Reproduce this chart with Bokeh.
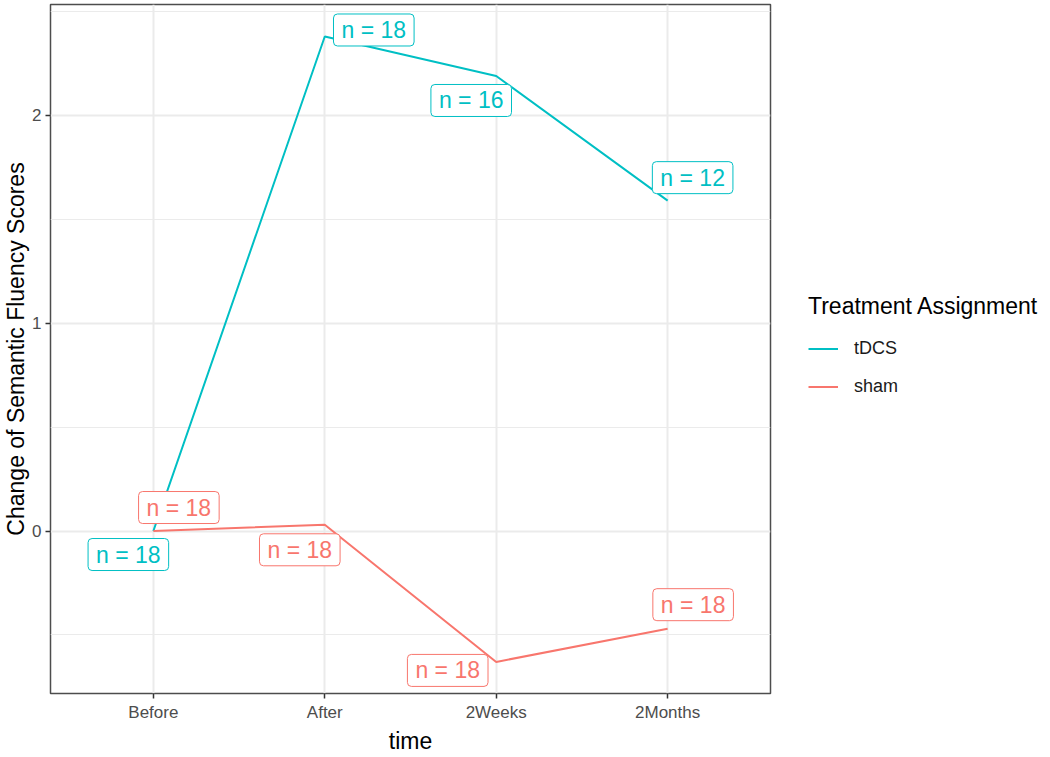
from bokeh.plotting import figure
from bokeh.models import FactorRange, Range1d, FixedTicker, Legend, LegendItem, ColumnDataSource
from bokeh.core.properties import value
from bokeh.embed import file_html
from bokeh.resources import INLINE

# ---------------- data ----------------
time_labels = ["Before", "After", "2Weeks", "2Months"]
tdcs_change = [0.0, 2.38, 2.19, 1.59]
sham_change = [0.0, 0.03, -0.63, -0.47]
tdcs_n = [18, 18, 16, 12]
sham_n = [18, 18, 18, 18]
series_names = ["tDCS", "sham"]
y_ticks = [0, 1, 2]
y_minor_ticks = [-0.5, 0.5, 1.5, 2.5]
legend_title = "Treatment Assignment"
x_title = "time"
y_title = "Change of Semantic Fluency Scores"

# ---------------- label placement (pixel offsets, repel-like) ----------------
tdcs_dx = [-25, 49, -25, 25]
tdcs_dy = [23.5, -6.5, 24.5, -23]
sham_dx = [25.5, -25, -48.5, 25.5]
sham_dy = [-23.5, 25, 8.5, -24]

TDCS = "#00BFC4"
SHAM = "#F8766D"
FONT = "Liberation Sans"

p = figure(
    frame_width=720, frame_height=689,
    x_range=FactorRange(factors=time_labels, range_padding=0.1, range_padding_units="absolute"),
    y_range=Range1d(-0.782, 2.534),
    output_backend="svg", toolbar_location=None,
    min_border_left=50, min_border_top=4, min_border_bottom=64, min_border_right=0,
)
p.background_fill_color = "white"
p.border_fill_color = "white"
p.outline_line_color = "#4d4d4d"
p.outline_line_width = 1.5

# grids
p.xgrid.grid_line_color = "#EBEBEB"
p.xgrid.grid_line_width = 2
p.ygrid.grid_line_color = "#EBEBEB"
p.ygrid.grid_line_width = 2
p.ygrid.minor_grid_line_color = "#EBEBEB"
p.ygrid.minor_grid_line_width = 1
p.yaxis.ticker = FixedTicker(ticks=y_ticks, minor_ticks=y_minor_ticks)

for ax in (p.xaxis[0], p.yaxis[0]):
    ax.axis_line_color = None
    ax.major_tick_line_color = "#333333"
    ax.major_tick_line_width = 1.5
    ax.major_tick_out = 5
    ax.major_tick_in = 0
    ax.minor_tick_line_color = None
    ax.major_label_text_font = FONT
    ax.major_label_text_font_size = "17px"
    ax.major_label_text_color = "#4D4D4D"
    ax.axis_label_text_font = FONT
    ax.axis_label_text_font_size = "23px"
    ax.axis_label_text_font_style = "normal"
    ax.axis_label_text_color = "black"

p.xaxis.axis_label = x_title
p.yaxis.axis_label = y_title
p.xaxis.major_label_standoff = 4
p.xaxis.axis_label_standoff = 3
p.yaxis.major_label_standoff = 4
p.yaxis.axis_label_standoff = 0

# lines
r_tdcs = p.line(time_labels, tdcs_change, line_color=TDCS, line_width=2)
r_sham = p.line(time_labels, sham_change, line_color=SHAM, line_width=2)

# labels
def add_labels(vals, ns, dx, dy, color):
    src = ColumnDataSource(dict(x=time_labels, y=vals, text=[f"n = {n}" for n in ns], dx=dx, dy=dy))
    p.text(
        x="x", y="y", text="text", x_offset="dx", y_offset="dy", source=src,
        text_color=color, text_font=value(FONT), text_font_size="23px",
        text_align="center", text_baseline="middle",
        background_fill_color="white", border_line_color=color, border_line_width=1,
        border_radius=4, padding=dict(left=8, right=8, top=3, bottom=3),
    )

add_labels(tdcs_change, tdcs_n, tdcs_dx, tdcs_dy, TDCS)
add_labels(sham_change, sham_n, sham_dx, sham_dy, SHAM)

legend = Legend(
    items=[LegendItem(label=series_names[0], renderers=[r_tdcs]),
           LegendItem(label=series_names[1], renderers=[r_sham])],
    title=legend_title, location=(38, 289),
)
legend.title_text_font = FONT
legend.title_text_font_size = "23px"
legend.title_text_font_style = "normal"
legend.title_text_color = "black"
legend.title_standoff = 11
legend.label_text_font = FONT
legend.label_text_font_size = "18px"
legend.label_text_color = "#1A1A1A"
legend.glyph_width = 30
legend.glyph_height = 35
legend.label_height = 35
legend.label_standoff = 16
legend.spacing = 3
legend.padding = 0
legend.margin = 0
legend.border_line_color = None
legend.background_fill_alpha = 0
p.add_layout(legend, "right")

open("out.html", "w").write(file_html(p, INLINE))
